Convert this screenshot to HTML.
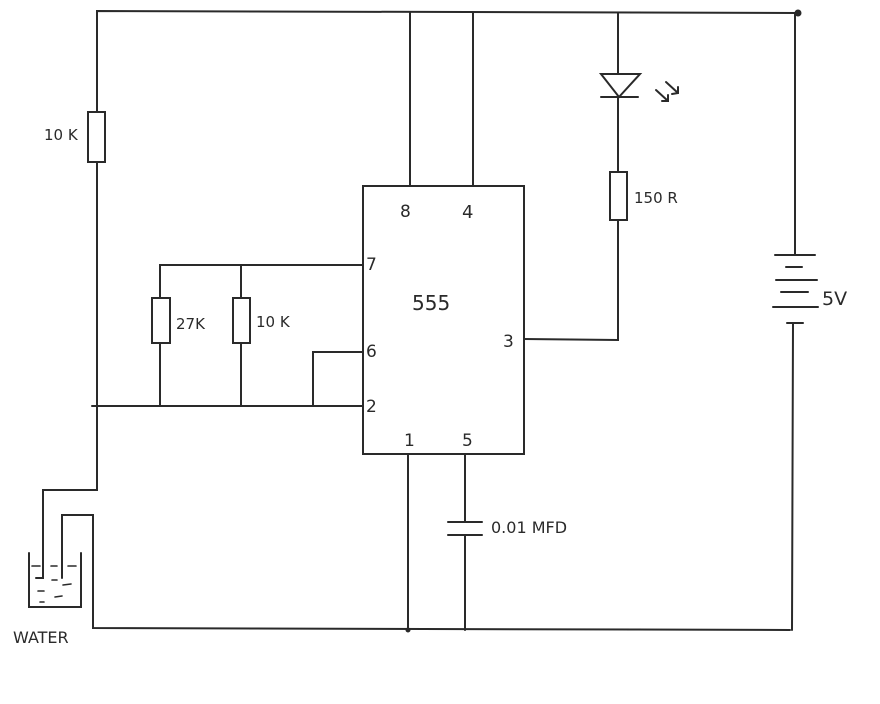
<!DOCTYPE html>
<html><head><meta charset="utf-8"><style>
html,body{margin:0;padding:0;background:#fff;}
svg{display:block}
text{font-family:"DejaVu Sans","Liberation Sans",sans-serif;fill:#2a2a2a}
</style></head><body>
<svg width="880" height="704" viewBox="0 0 880 704" xmlns="http://www.w3.org/2000/svg">
<g stroke="#2a2a2a" stroke-width="2" fill="none" stroke-linecap="round">
<!-- top wire -->
<polyline points="97,112 97,11 798,13"/>
<circle cx="798" cy="13" r="2.5" fill="#2a2a2a"/>
<!-- left 10K -->
<rect x="88" y="112" width="17" height="50"/>
<polyline points="97,162 97,490 43,490 43,578 36,578"/>
<line x1="92" y1="406" x2="363" y2="406"/>
<!-- probe 2 -->
<polyline points="62,578 62,515 93,515 93,628 790,630"/>
<!-- beaker -->
<polyline points="29,553 29,607 81,607 81,553"/>
<g stroke-width="1.6">
<line x1="32" y1="566" x2="40" y2="566"/><line x1="51" y1="566" x2="57" y2="566"/><line x1="68" y1="566" x2="76" y2="566"/>
<line x1="52" y1="580" x2="57" y2="580"/><line x1="63" y1="585" x2="71" y2="584"/>
<line x1="38" y1="591" x2="44" y2="591"/><line x1="55" y1="597" x2="62" y2="596"/>
<line x1="40" y1="602" x2="44" y2="602"/>
</g>
<!-- IC -->
<rect x="363" y="186" width="161" height="268"/>
<line x1="410" y1="13" x2="410" y2="186"/>
<line x1="473" y1="13" x2="473" y2="186"/>
<!-- pin 7 -->
<polyline points="160,298 160,265 363,265"/>
<line x1="160" y1="343" x2="160" y2="406"/>
<rect x="152" y="298" width="18" height="45"/>
<line x1="241" y1="265" x2="241" y2="298"/>
<line x1="241" y1="343" x2="241" y2="406"/>
<rect x="233" y="298" width="17" height="45"/>
<!-- pin 6 -->
<polyline points="363,352 313,352 313,406"/>
<!-- pin 3 -->
<polyline points="524,339 618,340 618,220"/>
<rect x="610" y="172" width="17" height="48"/>
<line x1="618" y1="172" x2="618" y2="97"/>
<line x1="618" y1="73" x2="618" y2="13"/>
<polygon points="601,74 640,74 619,97"/>
<line x1="601" y1="97" x2="638" y2="97"/>
<line x1="656" y1="90" x2="668" y2="101"/><polyline points="662,101 668,101 668,95"/>
<line x1="666" y1="82" x2="678" y2="93"/><polyline points="672,94 678,93 678,87"/>
<!-- pins 1, 5 -->
<line x1="408" y1="454" x2="408" y2="630"/>
<line x1="465" y1="454" x2="465" y2="522"/>
<line x1="448" y1="522" x2="482" y2="522"/>
<line x1="448" y1="535" x2="482" y2="535"/>
<line x1="465" y1="535" x2="465" y2="630"/>
<circle cx="408" cy="630" r="1.5" fill="#2a2a2a"/>
<!-- battery -->
<line x1="795" y1="13" x2="795" y2="255"/>
<line x1="775" y1="255" x2="815" y2="255"/>
<line x1="786" y1="267" x2="802" y2="267"/>
<line x1="776" y1="280" x2="817" y2="280"/>
<line x1="781" y1="292" x2="808" y2="292"/>
<line x1="773" y1="307" x2="818" y2="307"/>
<line x1="787" y1="323" x2="803" y2="323"/>
<line x1="793" y1="323" x2="792" y2="630"/>
</g>
<g font-size="15">
<text x="44" y="140">10 K</text>
<text x="176" y="329">27K</text>
<text x="256" y="327">10 K</text>
<text x="634" y="203">150 R</text>
<text x="822" y="305" font-size="19">5V</text>
<text x="491" y="533" font-size="16">0.01 MFD</text>
<text x="13" y="643" font-size="16">WATER</text>
<text x="400" y="217" font-size="17">8</text>
<text x="462" y="218" font-size="18">4</text>
<text x="366" y="270" font-size="17">7</text>
<text x="412" y="310" font-size="20">555</text>
<text x="366" y="357" font-size="17">6</text>
<text x="366" y="412" font-size="17">2</text>
<text x="503" y="347" font-size="17">3</text>
<text x="404" y="446" font-size="17">1</text>
<text x="462" y="446" font-size="17">5</text>
</g>
</svg>
</body></html>
